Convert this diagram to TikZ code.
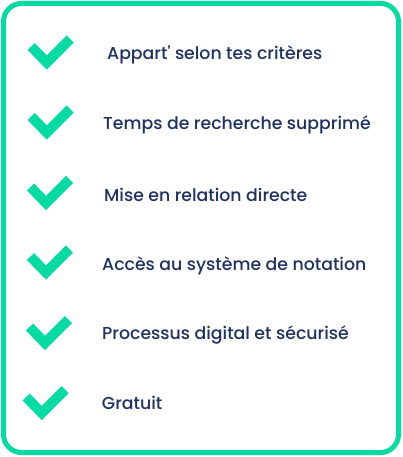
\documentclass[tikz,border=0pt]{standalone}
\usepackage{fontspec}
\setmainfont{Poppins}[UprightFont=* Medium, Ligatures=TeXOff]
\usepackage{tikz}
\definecolor{checkgreen}{HTML}{05DBA3}
\definecolor{navy}{HTML}{1E3160}

\begin{document}
\begin{tikzpicture}[
                x=1pt, y=-1pt, % pixel grid, y going down
                every node/.style={anchor=base west, inner sep=0pt, text=navy, font=\fontsize{17.3}{20}\selectfont}, % list items
                tick/.style={draw=checkgreen, line width=10pt, line join=miter, line cap=butt}, % check marks
                frame/.style={draw=checkgreen, line width=5pt, rounded corners=18pt} % outer box
                ]
                \useasboundingbox (0,0) rectangle (402,457);
                \draw[frame] (3.5,3.5) rectangle (398.5,452.5);

                \node (appart) at (107,59.3) {Appart' selon tes critères};
                \node (temps) at (103,129.3) {Temps de recherche supprimé};
                \node (mise) at (104,201) {Mise en relation directe};
                \node (acces) at (102,270) {Accès au système de notation};
                \node (processus) at (102,339.3) {Processus digital et sécurisé};
                \node (gratuit) at (101.7,409.3) {Gratuit};

                \coordinate (c1) at (46.7,62.5);
                \coordinate (c2) at (46.7,132.5);
                \coordinate (c3) at (46,203);
                \coordinate (c4) at (46,272.5);
                \coordinate (c5) at (45,343);
                \coordinate (c6) at (41.7,413);

                \draw[tick] ([shift={(-15.5,-16)}]c1) -- (c1) -- ++(23.5,-23.5);
                \draw[tick] ([shift={(-15.5,-16)}]c2) -- (c2) -- ++(23.5,-23.5);
                \draw[tick] ([shift={(-15.5,-16)}]c3) -- (c3) -- ++(23.5,-23.5);
                \draw[tick] ([shift={(-15.5,-16)}]c4) -- (c4) -- ++(23.5,-23.5);
                \draw[tick] ([shift={(-15.5,-16)}]c5) -- (c5) -- ++(23.5,-23.5);
                \draw[tick] ([shift={(-15.5,-16)}]c6) -- (c6) -- ++(23.5,-23.5);
            \end{tikzpicture}
\end{document}
